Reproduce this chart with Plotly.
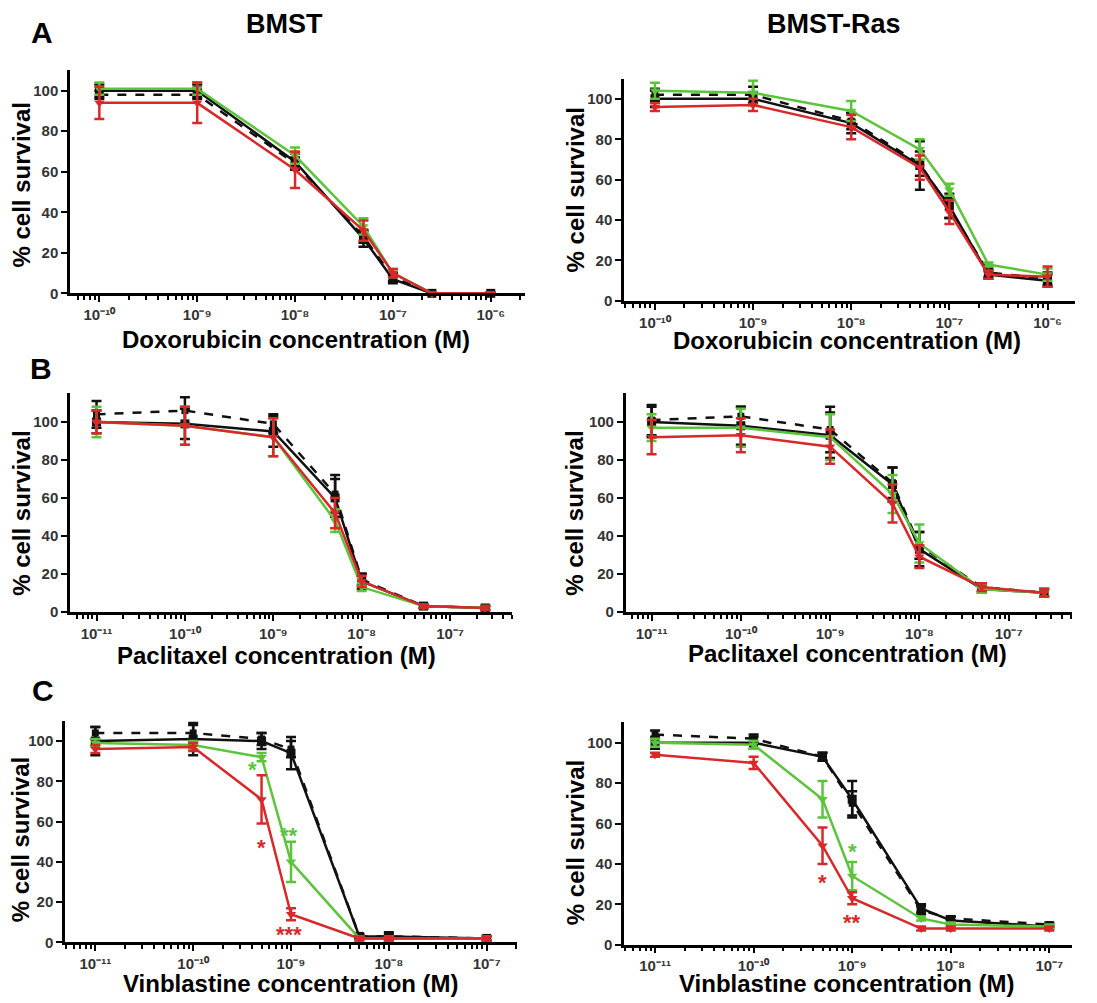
import numpy as np
import plotly.graph_objects as go

W, H = 1097, 1003

# ---------------- DATA ----------------
dox_conc = [1e-10, 1e-9, 1e-8, 5e-8, 1e-7, 2.5e-7, 1e-6]
pac_conc = [1e-11, 1e-10, 1e-9, 5e-9, 1e-8, 5e-8, 2.5e-7]
vin_conc = [1e-11, 1e-10, 5e-10, 1e-9, 5e-9, 1e-8, 1e-7]

# A left: Doxorubicin, BMST
a1_black = [100, 100, 65, 27, 7, 0, 0]
a1_black_err = [3, 3, 4, 4, 2, 0.5, 0.5]
a1_dash = [98, 98, 64, 28, 8, 0, 0]
a1_dash_err = [2, 2, 3, 3, 2, 0.5, 0.5]
a1_green = [101, 101, 68, 33, 10, 0, 0]
a1_green_err = [3, 3, 4, 4, 2, 0.5, 0.5]
a1_red = [94, 94, 61, 31, 10, 0, 0]
a1_red_err = [8, 10, 9, 5, 2, 0.5, 0.5]

# A right: Doxorubicin, BMST-Ras
a2_black = [100, 100, 88, 67, 47, 13, 10]
a2_black_err = [4, 3, 5, 12, 6, 2, 3]
a2_dash = [102, 102, 89, 68, 46, 14, 11]
a2_dash_err = [3, 4, 4, 6, 5, 2, 3]
a2_green = [104, 103, 94, 75, 55, 18, 13]
a2_green_err = [4, 6, 5, 5, 3, 1, 3]
a2_red = [96, 97, 86, 66, 44, 13, 12]
a2_red_err = [2, 3, 6, 6, 6, 2, 5]

# B left: Paclitaxel, BMST
b1_black = [100, 99, 95, 60, 16, 3, 2]
b1_black_err = [6, 8, 8, 10, 4, 1, 1]
b1_dash = [104, 106, 99, 62, 17, 3, 2]
b1_dash_err = [7, 7, 5, 10, 3, 1, 1]
b1_green = [100, 98, 92, 48, 13, 3, 2]
b1_green_err = [8, 10, 10, 6, 2, 1, 1]
b1_red = [100, 98, 92, 52, 16, 3, 2]
b1_red_err = [6, 10, 10, 8, 3, 1, 1]

# B right: Paclitaxel, BMST-Ras
b2_black = [100, 98, 93, 67, 33, 12, 10]
b2_black_err = [8, 10, 12, 9, 9, 2, 2]
b2_dash = [101, 103, 96, 68, 35, 13, 10]
b2_dash_err = [8, 5, 12, 8, 7, 2, 2]
b2_green = [97, 97, 92, 62, 36, 12, 10]
b2_green_err = [7, 10, 12, 10, 10, 2, 2]
b2_red = [92, 93, 87, 57, 29, 13, 10]
b2_red_err = [9, 9, 9, 10, 6, 2, 2]

# C left: Vinblastine, BMST
c1_black = [100, 101, 100, 94, 3, 3, 2]
c1_black_err = [7, 8, 4, 8, 1, 2, 1]
c1_dash = [104, 104, 101, 96, 3, 3, 2]
c1_dash_err = [3, 4, 3, 4, 1, 1, 1]
c1_green = [99, 98, 92, 40, 2, 2, 2]
c1_green_err = [2, 2, 2, 10, 1, 1, 1]
c1_red = [96, 97, 71, 14, 2, 2, 2]
c1_red_err = [2, 2, 12, 3, 1, 1, 1]

# C right: Vinblastine, BMST-Ras
c2_black = [100, 100, 93, 72, 18, 12, 9]
c2_black_err = [3, 3, 2, 9, 2, 2, 1]
c2_dash = [104, 102, 93, 70, 17, 13, 10]
c2_dash_err = [2, 2, 2, 6, 2, 1, 1]
c2_green = [100, 99, 72, 34, 13, 10, 9]
c2_green_err = [2, 2, 9, 7, 1, 1, 1]
c2_red = [94, 90, 49, 23, 8, 8, 8]
c2_red_err = [1, 3, 9, 3, 1, 1, 1]

# significance marks (panel, concentration, y, text, colour key)
sig_panel = [5, 5, 5, 5, 6, 6, 6]
sig_conc = [4.0e-10, 9.5e-10, 5e-10, 9.5e-10, 1e-9, 5e-10, 1e-9]
sig_y = [86, 53, 47, 4, 46, 31, 11]
sig_text = ["*", "**", "*", "***", "*", "*", "**"]
sig_color = ["green", "green", "red", "red", "green", "red", "red"]

dox_ticks = [1e-10, 1e-9, 1e-8, 1e-7, 1e-6]
dox_ticktext = ["10⁻¹⁰", "10⁻⁹", "10⁻⁸", "10⁻⁷", "10⁻⁶"]
dec_ticks = [1e-11, 1e-10, 1e-9, 1e-8, 1e-7]
dec_ticktext = ["10⁻¹¹", "10⁻¹⁰", "10⁻⁹", "10⁻⁸", "10⁻⁷"]
y_ticks = [0, 20, 40, 60, 80, 100]

x_titles = ["Doxorubicin concentration (M)", "Doxorubicin concentration (M)",
            "Paclitaxel concentration (M)", "Paclitaxel concentration (M)",
            "Vinblastine concentration (M)", "Vinblastine concentration (M)"]

# ---------------- STYLE / LAYOUT ----------------
COL = {"black": "#111111", "green": "#5cc43a", "red": "#d9282a"}
FONT = "Liberation Sans, Arial, sans-serif"

# panel geometry in pixels: (x0, x1, xr0, xr1, y0top, y1bottom, ymax)
panels = [
    (70, 525, -10.30, -5.65, 71, 295.7, 110),
    (624, 1075, -10.315, -5.72, 79.3, 303.3, 110),
    (70, 512, -11.30, -6.30, 395.7, 616.7, 115.5),
    (625.7, 1072, -11.29, -6.29, 395.7, 616.7, 115.5),
    (65, 517, -11.31, -6.69, 726.7, 950, 110),
    (624, 1072, -11.315, -6.77, 728.3, 952.3, 110),
]
panel_x = [dox_conc, dox_conc, pac_conc, pac_conc, vin_conc, vin_conc]
panel_series = [
    [(a1_black, a1_black_err), (a1_dash, a1_dash_err), (a1_green, a1_green_err), (a1_red, a1_red_err)],
    [(a2_black, a2_black_err), (a2_dash, a2_dash_err), (a2_green, a2_green_err), (a2_red, a2_red_err)],
    [(b1_black, b1_black_err), (b1_dash, b1_dash_err), (b1_green, b1_green_err), (b1_red, b1_red_err)],
    [(b2_black, b2_black_err), (b2_dash, b2_dash_err), (b2_green, b2_green_err), (b2_red, b2_red_err)],
    [(c1_black, c1_black_err), (c1_dash, c1_dash_err), (c1_green, c1_green_err), (c1_red, c1_red_err)],
    [(c2_black, c2_black_err), (c2_dash, c2_dash_err), (c2_green, c2_green_err), (c2_red, c2_red_err)],
]
series_style = [
    dict(color=COL["black"], dash="solid", symbol="square", size=9),
    dict(color=COL["black"], dash="dash", symbol="square", size=7),
    dict(color=COL["green"], dash="solid", symbol="triangle-down", size=9),
    dict(color=COL["red"], dash="solid", symbol="triangle-down", size=9),
]

fig = go.Figure()
layout = {}
annotations = []

for i, (geom, xs, series) in enumerate(zip(panels, panel_x, panel_series)):
    n = i + 1
    xa = "x" if n == 1 else f"x{n}"
    ya = "y" if n == 1 else f"y{n}"
    x0, x1, xr0, xr1, yt, yb, ymax = geom
    for (vals, errs), st in zip(series, series_style):
        fig.add_trace(go.Scatter(
            x=xs, y=vals, xaxis=xa, yaxis=ya, mode="lines+markers",
            line=dict(color=st["color"], width=2.5, dash=st["dash"]),
            marker=dict(color=st["color"], symbol=st["symbol"], size=st["size"]),
            error_y=dict(type="data", array=errs, visible=True, color=st["color"],
                         thickness=2.5, width=5),
            showlegend=False, cliponaxis=False))
    is_dox = i < 2
    layout[f"xaxis{'' if n == 1 else n}"] = dict(
        type="log", domain=[x0 / W, x1 / W], range=[xr0, xr1], anchor=ya,
        showline=True, linecolor="black", linewidth=2.5, showgrid=False, zeroline=False,
        ticks="outside", ticklen=6, tickwidth=2, tickcolor="black",
        tickvals=dox_ticks if is_dox else dec_ticks,
        ticktext=dox_ticktext if is_dox else dec_ticktext,
        tickfont=dict(family=FONT, size=15, color="#333333", weight="bold"),
        minor=dict(ticks="outside", ticklen=4, tickwidth=2, tickcolor="black", dtick="D1", showgrid=False),
    )
    layout[f"yaxis{'' if n == 1 else n}"] = dict(
        domain=[1 - yb / H, 1 - yt / H], range=[0, ymax], anchor=xa,
        showline=True, linecolor="black", linewidth=2.5, showgrid=False, zeroline=False,
        ticks="outside", ticklen=6, tickwidth=2, tickcolor="black",
        tickvals=y_ticks, tickfont=dict(family=FONT, size=15, color="#333333", weight="bold"),
    )

# significance asterisks
for p, c, yv, t, ck in zip(sig_panel, sig_conc, sig_y, sig_text, sig_color):
    annotations.append(dict(
        x=np.log10(c), y=yv, xref="x" if p == 1 else f"x{p}", yref="y" if p == 1 else f"y{p}",
        text=f"<b>{t}</b>", showarrow=False,
        font=dict(family=FONT, size=22, color=COL[ck])))

# axis titles & headings (paper coordinates from pixel positions)
def px(xp, yp):
    return xp / W, 1 - yp / H

xt_pos = [(296, 342), (847, 343), (276, 661), (847, 659), (291, 991), (847, 991)]
for t, (xp, yp) in zip(x_titles, xt_pos):
    xx, yy = px(xp, yp)
    annotations.append(dict(x=xx, y=yy, xref="paper", yref="paper", text=f"<b>{t}</b>",
                            showarrow=False, font=dict(family=FONT, size=24, color="black"),
                            xanchor="center", yanchor="middle"))

yt_pos = [(22, 187), (575, 192), (22, 518), (575, 518), (20, 847), (575, 850)]
for (xp, yp) in yt_pos:
    xx, yy = px(xp, yp)
    annotations.append(dict(x=xx, y=yy, xref="paper", yref="paper", text="<b>% cell survival</b>",
                            textangle=-90, showarrow=False,
                            font=dict(family=FONT, size=24, color="black"),
                            xanchor="center", yanchor="middle"))

heads = [("A", 42, 33, 30), ("B", 41, 371, 30), ("C", 43, 696, 30),
         ("BMST", 284, 24, 27), ("BMST-Ras", 834, 24, 27)]
for t, xp, yp, fs in heads:
    xx, yy = px(xp, yp)
    annotations.append(dict(x=xx, y=yy, xref="paper", yref="paper", text=f"<b>{t}</b>",
                            showarrow=False, font=dict(family=FONT, size=fs, color="black"),
                            xanchor="center", yanchor="middle"))

fig.update_layout(
    width=W, height=H, margin=dict(l=0, r=0, t=0, b=0),
    paper_bgcolor="white", plot_bgcolor="white",
    annotations=annotations, **layout)

fig.write_html("out.html", config={"displayModeBar": False},
               post_script="document.body.style.margin='0';")
